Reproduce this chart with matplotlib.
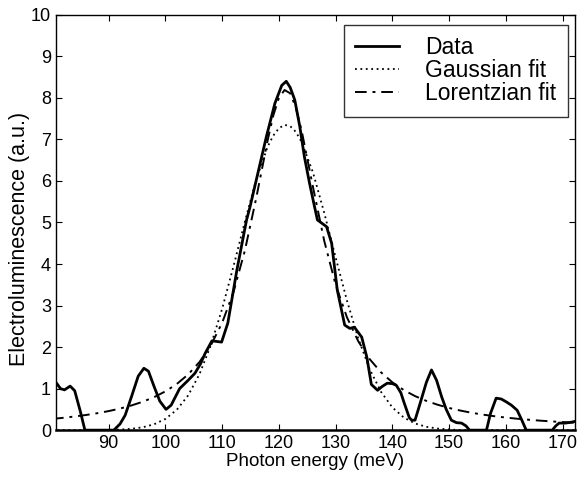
import matplotlib
matplotlib.use('Agg')
from matplotlib import pyplot as plt

# Measured electroluminescence spectrum
energy = [80.7, 81.5, 82.2, 83.2, 84.0, 85.0, 85.8, 90.9, 92.0, 92.9,
          94.0, 95.2, 96.2, 97.0, 98.0, 99.0, 100.1, 101.0, 102.5, 104.0,
          105.2, 106.2, 107.0, 108.2, 109.9, 111.0, 112.6, 114.3, 114.9, 116.3,
          117.8, 119.3, 120.5, 121.3, 122.0, 122.8, 123.7, 124.5, 125.4, 126.3,
          126.8, 127.6, 128.4, 129.3, 130.3, 131.6, 132.5, 133.3, 134.6, 135.5,
          136.3, 137.4, 138.2, 139.1, 140.0, 140.7, 141.5, 142.1, 143.0, 143.4,
          144.0, 144.8, 146.0, 146.9, 147.8, 148.7, 149.5, 150.4, 151.3, 152.2,
          153.0, 153.6, 156.6, 157.3, 158.3, 159.2, 160.1, 161.0, 162.0, 162.8,
          163.6, 168.2, 168.8, 169.4, 170.5, 171.5, 172.2]
signal = [1.15, 1.00, 0.97, 1.06, 0.95, 0.45, 0.00, 0.00, 0.15, 0.36,
          0.80, 1.30, 1.49, 1.42, 1.05, 0.70, 0.50, 0.60, 1.00, 1.20,
          1.37, 1.60, 1.85, 2.15, 2.12, 2.58, 3.86, 5.06, 5.37, 6.19,
          7.07, 7.87, 8.30, 8.40, 8.25, 7.95, 7.30, 6.58, 5.95, 5.37,
          5.06, 4.98, 4.90, 4.50, 3.37, 2.53, 2.45, 2.48, 2.24, 1.76,
          1.10, 0.96, 1.05, 1.13, 1.12, 1.08, 0.90, 0.65, 0.30, 0.24,
          0.24, 0.60, 1.15, 1.45, 1.20, 0.80, 0.50, 0.24, 0.18, 0.17,
          0.10, 0.00, 0.00, 0.40, 0.77, 0.75, 0.68, 0.60, 0.48, 0.25,
          0.00, 0.00, 0.10, 0.17, 0.17, 0.19, 0.21]

# Fitted line shapes, sampled on a common energy grid
fit_energy = [80, 82, 84, 86, 88, 90, 92, 94, 96, 98,
              100, 102, 104, 106, 108, 110, 112, 114, 116, 118,
              119, 120, 121, 122, 123, 124, 126, 128, 130, 132,
              134, 136, 138, 140, 142, 144, 146, 148, 150, 152,
              154, 156, 158, 160, 162, 164, 166, 168, 170, 172, 174]
gauss_fit = [0.000, 0.000, 0.000, 0.000, 0.000, 0.000, 0.014, 0.032, 0.069, 0.141,
             0.271, 0.490, 0.836, 1.346, 2.044, 2.924, 3.947, 5.020, 6.030, 6.820,
             7.090, 7.270, 7.350, 7.320, 7.180, 6.940, 6.210, 5.230, 4.160, 3.120,
             2.205, 1.470, 0.924, 0.548, 0.306, 0.161, 0.080, 0.038, 0.017, 0.000,
             0.000, 0.000, 0.000, 0.000, 0.000, 0.000, 0.000, 0.000, 0.000, 0.000, 0.000]
lorentz_fit = [0.270, 0.297, 0.329, 0.365, 0.408, 0.459, 0.520, 0.594, 0.684, 0.795,
               0.934, 1.111, 1.340, 1.640, 2.042, 2.586, 3.327, 4.323, 5.586, 6.966,
               7.570, 8.000, 8.190, 8.110, 7.760, 7.220, 5.860, 4.554, 3.503, 2.716,
               2.138, 1.711, 1.393, 1.152, 0.966, 0.820, 0.704, 0.611, 0.534, 0.471,
               0.418, 0.373, 0.335, 0.303, 0.275, 0.251, 0.229, 0.211, 0.194, 0.180, 0.166]

plt.rcParams['font.family'] = ['Liberation Sans', 'DejaVu Sans']

fig = plt.figure(figsize=(5.77, 4.79), dpi=100)
ax = fig.add_axes([0.097, 0.102, 0.8995, 0.867])

ax.plot(energy, signal, color='black', lw=2.0, ls='-', label='Data')
ax.plot(fit_energy, gauss_fit, color='black', lw=1.3, ls=(0, (1, 2)), label='Gaussian fit')
ax.plot(fit_energy, lorentz_fit, color='black', lw=1.4, ls=(0, (6, 3, 1.5, 3)), label='Lorentzian fit')

ax.set_xlim(80.7, 172.2)
ax.set_ylim(0, 10)
ax.set_xticks(range(90, 171, 10))
ax.set_yticks(range(0, 11))
ax.tick_params(direction='in', top=True, right=True, labelsize=13, length=4, width=0.8)
for sp in ax.spines.values():
    sp.set_linewidth(1.0)
ax.spines['bottom'].set_linewidth(1.8)

ax.set_xlabel('Photon energy (meV)', fontsize=13.5, labelpad=1)
ax.set_ylabel('Electroluminescence (a.u.)', fontsize=15.5)
ax.yaxis.set_label_coords(-0.05, 0.46)

leg = ax.legend(loc='upper right', bbox_to_anchor=(0.9865, 0.976), fontsize=16.5,
                frameon=True, fancybox=False, edgecolor='black', handlelength=1.9,
                borderpad=0.5, borderaxespad=0, labelspacing=0.0, handletextpad=1.15)
leg.get_frame().set_linewidth(1.0)

fig.savefig('out.png', dpi=100)
